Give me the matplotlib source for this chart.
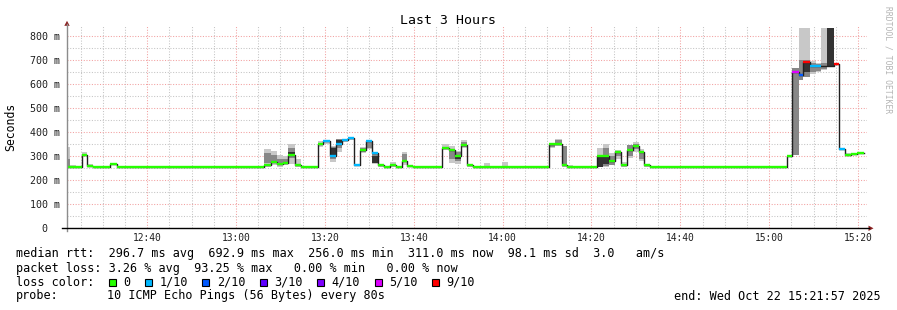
import matplotlib
matplotlib.use("Agg")
import matplotlib.pyplot as plt
import numpy as np

W, H = 897, 310
MONO = "DejaVu Sans Mono"

# graph window: 12:21:57 .. 15:21:57
start_clock = 12 * 60 + 21 + 57 / 60.0

# one entry per step of the median line (minutes after 12:21:57)
seg_start = [0.00, 0.68, 2.03, 3.31, 4.50, 5.85, 9.68, 11.25,
             44.33, 45.90, 47.25, 48.60, 49.73, 51.30, 52.65,
             56.48, 57.61, 59.18, 60.53, 61.88, 63.23, 64.58, 65.93, 67.28, 68.63,
             69.98, 71.33, 72.68, 74.03, 75.38, 76.51, 77.86,
             84.38, 85.96, 87.31, 88.66, 90.01, 91.36, 93.83, 95.18, 97.88, 99.23,
             108.46, 109.81, 111.39, 112.51, 113.86,
             119.26, 120.61, 121.96, 123.31, 124.66, 126.01, 127.36, 128.71, 129.84,
             131.19, 133.44,
             162.02, 163.21, 164.72, 165.69, 167.19, 168.70, 169.82, 171.17, 172.66,
             173.78, 175.07, 176.42, 177.77]
seg_end = 179.34

median_ms = [256, 256, 256, 307, 258, 256, 268, 256,
             262, 278, 268, 272, 307, 262, 256,
             350, 365, 300, 350, 368, 375, 265, 325, 362, 312,
             262, 256, 262, 256, 280, 258, 256,
             336, 328, 302, 348, 264, 256, 256, 256, 256, 256,
             350, 352, 262, 256, 256,
             302, 300, 280, 318, 262, 325, 342, 320, 262,
             256, 256,
             303, 650, 638, 695, 675, 678, 678, 676, 683,
             332, 307, 310, 313]

# index into loss_colors, -1 = no coloured mark visible
loss_idx = [0, 0, 0, 0, 0, 0, 0, 0,
            0, 0, 0, 0, 0, 0, 0,
            0, 1, 1, 1, 1, 1, 1, 0, 1, 1,
            0, 0, 0, 0, 0, 0, 0,
            0, 0, 0, 0, 0, 0, 0, 0, 0, 0,
            0, 0, 0, 0, 0,
            0, 0, 0, 0, 0, 0, 0, 0, 0,
            0, 0,
            0, 5, 2, 6, 1, 1, -1, -1, 6,
            1, 0, 0, 0]

# smoke: light outer band, mid band, dark band (0, 0 = none)
smoke_lo = [256, 256, 256, 300, 256, 256, 262, 256,
            256, 262, 256, 262, 270, 256, 256,
            340, 350, 278, 320, 360, 370, 258, 312, 330, 268,
            256, 256, 256, 256, 262, 256, 256,
            325, 273, 267, 335, 256, 256, 256, 256, 256, 256,
            335, 343, 256, 256, 256,
            257, 257, 262, 290, 256, 293, 320, 280, 256,
            256, 256,
            300, 306, 617, 629, 645, 650, 660, 676, 680,
            328, 305, 307, 310]
smoke_hi = [340, 265, 256, 318, 270, 256, 272, 256,
            331, 322, 307, 300, 352, 289, 256,
            364, 370, 345, 372, 372, 378, 270, 340, 365, 320,
            266, 256, 276, 256, 318, 262, 256,
            352, 345, 322, 366, 268, 256, 272, 256, 276, 256,
            355, 372, 343, 262, 256,
            334, 352, 315, 325, 278, 348, 361, 330, 265,
            260, 256,
            306, 666, 836, 836, 698, 690, 836, 836, 686,
            335, 312, 312, 315]
core_lo = [256, 0, 0, 0, 0, 0, 0, 0,
           272, 280, 265, 270, 295, 0, 0,
           0, 0, 290, 335, 0, 0, 0, 318, 335, 271,
           0, 0, 0, 0, 285, 0, 0,
           0, 290, 280, 340, 0, 0, 0, 0, 0, 0,
           340, 350, 264, 0, 0,
           257, 260, 265, 300, 0, 300, 330, 290, 0,
           0, 0,
           0, 306, 617, 629, 650, 655, 665, 0, 0,
           0, 0, 0, 0]
core_hi = [290, 0, 0, 0, 0, 0, 0, 0,
           313, 305, 290, 288, 335, 0, 0,
           0, 0, 340, 372, 0, 0, 0, 335, 360, 315,
           0, 0, 0, 0, 310, 0, 0,
           0, 330, 320, 360, 0, 0, 0, 0, 0, 0,
           352, 370, 343, 0, 0,
           303, 335, 300, 322, 0, 348, 350, 320, 0,
           0, 0,
           0, 666, 700, 700, 690, 685, 690, 0, 0,
           0, 0, 0, 0]
dark_lo = [0, 0, 0, 0, 0, 0, 0, 0,
           0, 0, 0, 0, 300, 0, 0,
           0, 0, 305, 355, 0, 0, 0, 0, 0, 271,
           0, 0, 0, 0, 0, 0, 0,
           0, 0, 290, 0, 0, 0, 0, 0, 0, 0,
           0, 0, 0, 0, 0,
           257, 270, 0, 0, 0, 0, 0, 0, 0,
           0, 0,
           0, 0, 0, 652, 0, 0, 0, 676, 0,
           0, 0, 0, 0]
dark_hi = [0, 0, 0, 0, 0, 0, 0, 0,
           0, 0, 0, 0, 320, 0, 0,
           0, 0, 335, 370, 0, 0, 0, 0, 0, 300,
           0, 0, 0, 0, 0, 0, 0,
           0, 0, 305, 0, 0, 0, 0, 0, 0, 0,
           0, 0, 0, 0, 0,
           300, 300, 0, 0, 0, 0, 0, 0, 0,
           0, 0,
           0, 0, 0, 690, 0, 0, 0, 836, 0,
           0, 0, 0, 0]

loss_labels = ["0", "1/10", "2/10", "3/10", "4/10", "5/10", "9/10"]
loss_colors = ["#26ff00", "#00b8ff", "#0059ff", "#5e00ff", "#7e00ff", "#dd00ff", "#ff0000"]

y_major = [0, 100, 200, 300, 400, 500, 600, 700, 800]
x_labels = ["12:40", "13:00", "13:20", "13:40", "14:00", "14:20", "14:40", "15:00", "15:20"]


def clock(s):
    h, m = s.split(":")
    return int(h) * 60 + int(m) - start_clock


def fx(px):
    return px / W


def fy(py):
    return 1 - py / H


fig = plt.figure(figsize=(W / 100, H / 100), dpi=100)
fig.patch.set_facecolor("white")

ax_top, ax_bot = 26.0, 228.3
ax_l, ax_r = 67.0, 866.7
ax = fig.add_axes([fx(ax_l), fy(ax_bot), (ax_r - ax_l) / W, (ax_bot - ax_top) / H])
ax.set_xlim(0, 180)
ax.set_ylim(0, (ax_bot - ax_top) / 0.24)
for s in ax.spines.values():
    s.set_visible(False)

# grid
ax.set_xticks([clock(t) for t in x_labels])
ax.set_xticks([clock("12:25") + 5 * i for i in range(36)], minor=True)
ax.set_yticks(y_major)
ax.set_yticks([50 + 100 * i for i in range(8)], minor=True)
ax.grid(which="major", color="#f2a0a0", linestyle=(0, (1, 1.6)), linewidth=0.75)
ax.grid(which="minor", color="#c4c4c4", linestyle=(0, (1, 1.6)), linewidth=0.75)
ax.set_axisbelow(True)
ax.tick_params(which="both", length=0)
ax.tick_params(axis="x", pad=3.3)
ax.tick_params(axis="y", pad=5)
ax.set_xticklabels(x_labels, fontfamily=MONO, fontsize=6.9, color="#202020")
ax.set_yticklabels(["0  "] + [f"{v} m" for v in y_major[1:]], fontfamily=MONO, fontsize=7.2,
                   color="#202020")

starts = np.array(seg_start)
ends = np.append(starts[1:], seg_end)
widths = ends - starts
med = np.array(median_ms)

# smoke
lo, hi = np.array(smoke_lo), np.array(smoke_hi)
ax.bar(starts, hi - lo, width=widths, bottom=lo, align="edge", color="#c8c8c8", linewidth=0, zorder=2)
clo, chi = np.array(core_lo), np.array(core_hi)
ax.bar(starts, chi - clo, width=widths, bottom=clo, align="edge", color="#878787", linewidth=0, zorder=3)
dlo, dhi = np.array(dark_lo), np.array(dark_hi)
ax.bar(starts, dhi - dlo, width=widths, bottom=dlo, align="edge", color="#333333", linewidth=0, zorder=4)

# median line and loss colour marks
ax.step(np.append(starts, seg_end), np.append(med, med[-1]), where="post",
        color="#202020", linewidth=1.0, zorder=5)
for s0, s1, m, li in zip(starts, ends, med, loss_idx):
    if li >= 0:
        ax.hlines(m, s0, s1, colors=loss_colors[li], linewidth=1.7, zorder=6)

# axis lines and arrows
fig.add_artist(plt.Line2D([fx(ax_l), fx(ax_l)], [fy(ax_bot + 3), fy(24)], color="#8c8c8c", lw=1.0))
fig.add_artist(plt.Line2D([fx(62), fx(869)], [fy(ax_bot), fy(ax_bot)], color="#000000", lw=1.0))
fig.add_artist(plt.Polygon([[fx(64.3), fy(25.8)], [fx(69.7), fy(25.8)], [fx(67), fy(20.8)]],
                           closed=True, color="#8b2020", lw=0))
fig.add_artist(plt.Polygon([[fx(868.5), fy(ax_bot - 2.7)], [fx(868.5), fy(ax_bot + 2.7)],
                            [fx(873.5), fy(ax_bot)]], closed=True, color="#8b2020", lw=0))

# texts
fig.text(fx(448), fy(20), "Last 3 Hours", fontfamily=MONO, fontsize=9.5, ha="center", va="center",
         color="#000000")
fig.text(fx(11), fy(127), "Seconds", fontfamily=MONO, fontsize=8.3, rotation=90, ha="center",
         va="center", color="#000000")
fig.text(fx(887.5), fy(60), "RRDTOOL / TOBI OETIKER", fontfamily=MONO, fontsize=5.8, rotation=270,
         ha="center", va="center", color="#b4b4b4")

legend_fs = 8.45
lines = [
    "median rtt:  296.7 ms avg  692.9 ms max  256.0 ms min  311.0 ms now  98.1 ms sd  3.0   am/s",
    "packet loss: 3.26 % avg  93.25 % max   0.00 % min   0.00 % now",
]
fig.text(fx(16), fy(254), lines[0], fontfamily=MONO, fontsize=legend_fs, ha="left", va="center")
fig.text(fx(16), fy(268.3), lines[1], fontfamily=MONO, fontsize=legend_fs, ha="left", va="center")
fig.text(fx(16), fy(282.3), "loss color:", fontfamily=MONO, fontsize=legend_fs, ha="left", va="center")
fig.text(fx(16), fy(296), "probe:", fontfamily=MONO, fontsize=legend_fs, ha="left", va="center")
fig.text(fx(107.3), fy(296), "10 ICMP Echo Pings (56 Bytes) every 80s", fontfamily=MONO,
         fontsize=legend_fs, ha="left", va="center")
fig.text(fx(881), fy(296), "end: Wed Oct 22 15:21:57 2025", fontfamily=MONO, fontsize=legend_fs,
         ha="right", va="center")

char_w = 7.02
bx = 108.7
for lab, col in zip(loss_labels, loss_colors):
    fig.add_artist(plt.Rectangle((fx(bx), fy(285.8)), 7 / W, 7 / H, facecolor=col,
                                 edgecolor="#000000", lw=0.8))
    fig.text(fx(bx + 14.3), fy(282.3), lab, fontfamily=MONO, fontsize=legend_fs, ha="left", va="center")
    bx = bx + 14.3 + len(lab) * char_w + 15

fig.savefig("out.png", dpi=100, facecolor="white")
